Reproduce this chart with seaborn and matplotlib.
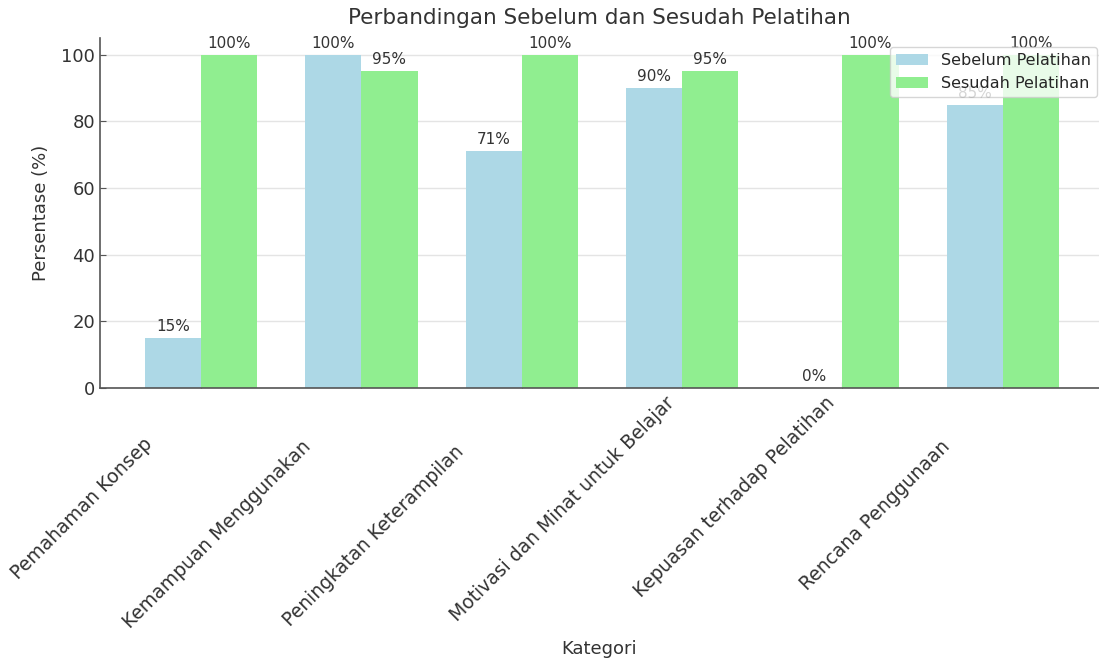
import numpy as np
import pandas as pd
import matplotlib
matplotlib.use("Agg")
import matplotlib.pyplot as plt
import matplotlib.transforms as mtransforms
import seaborn as sns

# Data
kategori = ['Pemahaman Konsep', 'Kemampuan Menggunakan', 'Peningkatan Keterampilan',
            'Motivasi dan Minat untuk Belajar', 'Kepuasan terhadap Pelatihan', 'Rencana Penggunaan']
sebelum = [15, 100, 71, 90, 0, 85]
sesudah = [100, 95, 100, 95, 100, 100]
series = ['Sebelum Pelatihan', 'Sesudah Pelatihan']

df = pd.DataFrame({
    'Kategori': kategori * 2,
    'Persentase': sebelum + sesudah,
    'Kelompok': [series[0]] * len(kategori) + [series[1]] * len(kategori),
})

sns.set_style("ticks")
plt.rcParams['font.family'] = ['DejaVu Sans']
txt = '#333333'

fig, ax = plt.subplots(figsize=(10.99, 6.61), dpi=100)
sns.barplot(data=df, x='Kategori', y='Persentase', hue='Kelompok', hue_order=series,
            palette=['lightblue', 'lightgreen'], width=0.7, saturation=1,
            linewidth=0, ax=ax)

# value labels on top of the bars
for cont in ax.containers:
    ax.bar_label(cont, fmt='%d%%', padding=3, fontsize=11, color=txt)

ax.set_title('Perbandingan Sebelum dan Sesudah Pelatihan', fontsize=15.5, color=txt, pad=10)
ax.set_xlabel('Kategori', fontsize=13, color=txt)
ax.xaxis.set_label_coords(0.5, -0.72)
ax.set_ylabel('Persentase (%)', fontsize=13, color=txt, labelpad=8)
ax.set_ylim(0, 105)
ax.set_xlim(-0.63, 5.6)
ax.tick_params(direction='in', length=4, color='#555555', labelcolor=txt, labelsize=13)

# tilted category labels; the original has them shifted unevenly (inches)
label_shift = [(-0.45, -0.42), (-0.47, -0.44), (-0.54, -0.49),
               (-0.04, 0.0), (-0.04, 0.0), (-0.49, -0.44)]
for lab, (dx, dy) in zip(ax.get_xticklabels(), label_shift):
    lab.set_rotation(45)
    lab.set_ha('right')
    lab.set_fontsize(13.5)
    off = mtransforms.ScaledTranslation(dx, dy, fig.dpi_scale_trans)
    lab.set_transform(lab.get_transform() + off)

ax.yaxis.grid(True, color='#e4e4e4', linewidth=1)
ax.set_axisbelow(True)
sns.despine(ax=ax)
for s in ['left', 'bottom']:
    ax.spines[s].set_color('#555555')
    ax.spines[s].set_linewidth(1.2)
ax.legend(loc='upper right', bbox_to_anchor=(1.0, 0.98), borderaxespad=0.1,
          fontsize=11.5, framealpha=0.8)

fig.subplots_adjust(left=0.091, right=1.0, top=0.9425, bottom=0.413)
fig.savefig('out.png', dpi=100)
